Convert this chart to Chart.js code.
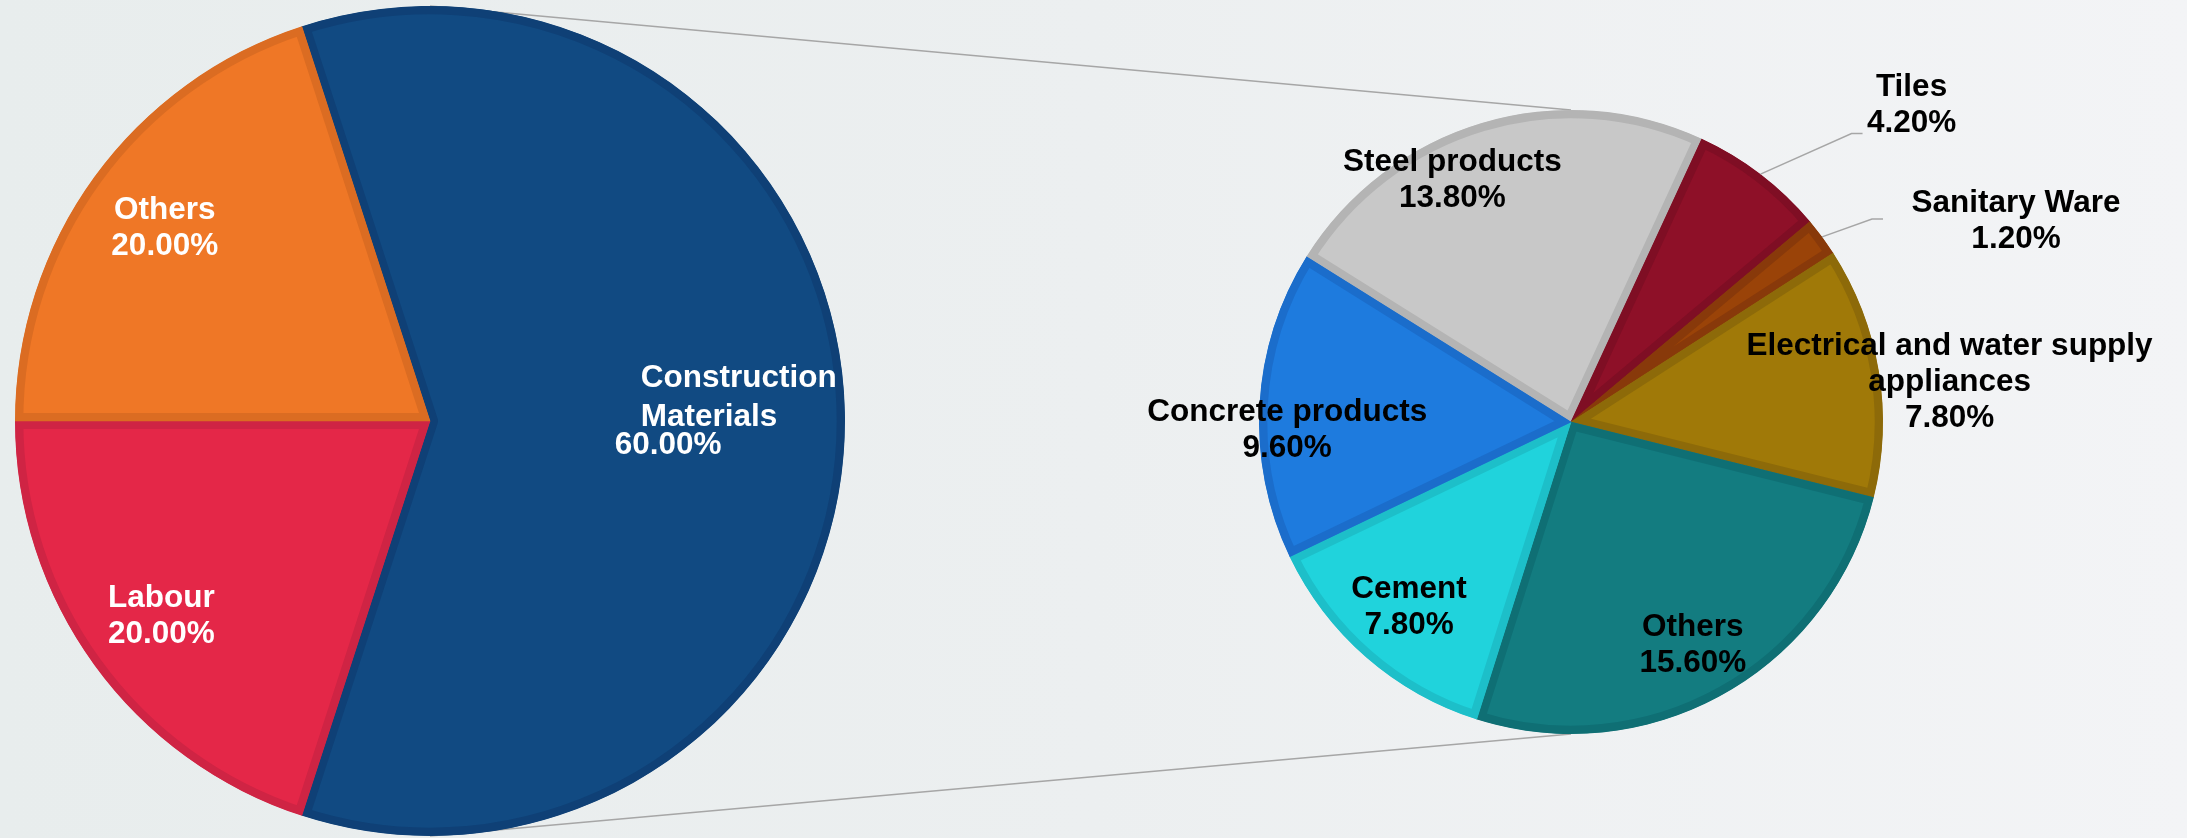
<!DOCTYPE html>
<html>
<head>
<meta charset="utf-8">
<script src="https://cdn.jsdelivr.net/npm/chart.js@4.4.1/dist/chart.umd.min.js"></script>
<style>
  html, body { margin: 0; padding: 0; }
  body {
    width: 2187px; height: 838px; overflow: hidden;
    background: linear-gradient(to right, #e8eded 0%, #eceff0 50%, #f3f4f6 100%);
  }
  .layer { position: absolute; left: 0; top: 0; width: 2187px; height: 838px; }
  #detailWrap { z-index: 1; }
  #mainWrap { z-index: 2; }
</style>
</head>
<body>
<div class="layer" id="detailWrap"><canvas id="detailChart"></canvas></div>
<div class="layer" id="mainWrap"><canvas id="mainChart"></canvas></div>
<script>
// Data
const mainLabels = ['Construction Materials', 'Labour', 'Others'];
const mainValues = [60, 20, 20];

const detailLabels = ['Steel products', 'Tiles', 'Sanitary Ware', 'Electrical and water supply appliances', 'Others', 'Cement', 'Concrete products'];
const detailValues = [13.8, 4.2, 1.2, 7.8, 15.6, 7.8, 9.6];

// Colours
const mainColors = ['#114a82', '#e42748', '#ef7726'];
const mainBorders = ['#0f4076', '#cf2444', '#db6c22'];
const detailColors = ['#c8c8c8', '#8e1028', '#9a4308', '#a07908', '#137c80', '#20d3dc', '#1e7bde'];
const detailBorders = ['#b4b4b4', '#7f0e24', '#88390a', '#8d6a09', '#0f6f74', '#1dbfc9', '#1b6dcb'];

const FONT = 'bold 31.5px "Liberation Sans", Arial, sans-serif';
const LINE_H = 36;

// label placement relative to each slice: radius factor + angle nudge (deg)
const mainLabelPos = [
  { r: 0.65, da: 0, lines: ['Construction', 'Materials'], left: true, offs: [[-59, -43], [-59, -4], [-85, 24]] },
  { r: 0.80, da: 0, lines: ['Labour'] },
  { r: 0.79, da: 0, lines: ['Others'] }
];
const detailLabelPos = [
  { r: 0.864, da: -9.5, lines: ['Steel products'] },
  { r: 1.49, da: 9.7, lines: ['Tiles'], leader: [-49, 28] },
  { r: 1.565, da: 12.1, lines: ['Sanitary Ware'], leader: [-133, -2] },
  { r: 1.22, da: 3.4, lines: ['Electrical and water supply', 'appliances'] },
  { r: 0.816, da: 0.6, lines: ['Others'] },
  { r: 0.788, da: 0.2, lines: ['Cement'] },
  { r: 0.91, da: -4.8, lines: ['Concrete products'] }
];

function pct(v) { return v.toFixed(2) + '%'; }

function labelPlugin(layout, values, color) {
  return {
    id: 'sliceLabels',
    afterDatasetsDraw(chart) {
      const ctx = chart.ctx;
      const arcs = chart.getDatasetMeta(0).data;
      ctx.save();
      ctx.font = FONT;
      ctx.fillStyle = color;
      ctx.textBaseline = 'middle';
      arcs.forEach((arc, i) => {
        const p = layout[i];
        const mid = (arc.startAngle + arc.endAngle) / 2 + p.da * Math.PI / 180;
        const ax = arc.x + Math.cos(mid) * arc.outerRadius * p.r;
        const ay = arc.y + Math.sin(mid) * arc.outerRadius * p.r;
        const lines = p.lines.concat([pct(values[i])]);
        if (p.left) {
          ctx.textAlign = 'left';
          lines.forEach((t, k) => ctx.fillText(t, ax + p.offs[k][0], ay + p.offs[k][1]));
        } else {
          ctx.textAlign = 'center';
          const top = ay - (lines.length - 1) * LINE_H / 2;
          lines.forEach((t, k) => ctx.fillText(t, ax, top + k * LINE_H));
        }
        if (p.leader) {
          const am = (arc.startAngle + arc.endAngle) / 2;
          const sx = arc.x + Math.cos(am) * arc.outerRadius;
          const sy = arc.y + Math.sin(am) * arc.outerRadius;
          const ex = ax + p.leader[0], ey = ay + p.leader[1];
          ctx.beginPath();
          ctx.strokeStyle = '#a6a6a6';
          ctx.lineWidth = 1.5;
          ctx.moveTo(sx, sy);
          ctx.lineTo(ex - 11, ey);
          ctx.lineTo(ex, ey);
          ctx.stroke();
        }
      });
      ctx.restore();
    }
  };
}

const baseOptions = {
  responsive: true,
  maintainAspectRatio: false,
  animation: false,
  events: [],
  plugins: { legend: { display: false }, tooltip: { enabled: false } }
};

// Main pie (left)
const mainChart = new Chart(document.getElementById('mainChart').getContext('2d'), {
  type: 'pie',
  data: {
    labels: mainLabels,
    datasets: [{
      data: mainValues,
      backgroundColor: mainColors,
      borderColor: mainBorders,
      borderWidth: 8,
      borderAlign: 'inner'
    }]
  },
  options: Object.assign({}, baseOptions, {
    rotation: -18,
    radius: 415,
    layout: { padding: { left: 0, right: 1327, top: 4, bottom: 0 } }
  }),
  plugins: [labelPlugin(mainLabelPos, mainValues, '#ffffff')]
});

// connector lines between the two pies
const connectorPlugin = {
  id: 'connectors',
  beforeDatasetsDraw(chart) {
    const a = mainChart.getDatasetMeta(0).data[0];
    const b = chart.getDatasetMeta(0).data[0];
    if (!a || !b) return;
    const ctx = chart.ctx;
    ctx.save();
    ctx.strokeStyle = '#a6a6a6';
    ctx.lineWidth = 1.5;
    ctx.beginPath();
    ctx.moveTo(a.x, a.y - a.outerRadius);
    ctx.lineTo(b.x, b.y - b.outerRadius);
    ctx.moveTo(a.x, a.y + a.outerRadius);
    ctx.lineTo(b.x, b.y + b.outerRadius);
    ctx.stroke();
    ctx.restore();
  }
};

// Breakdown pie (right)
new Chart(document.getElementById('detailChart').getContext('2d'), {
  type: 'pie',
  data: {
    labels: detailLabels,
    datasets: [{
      data: detailValues,
      backgroundColor: detailColors,
      borderColor: detailBorders,
      borderWidth: 8,
      borderAlign: 'inner'
    }]
  },
  options: Object.assign({}, baseOptions, {
    rotation: -58,
    radius: 312,
    layout: { padding: { left: 1251, right: 296, top: 102, bottom: 96 } }
  }),
  plugins: [connectorPlugin, labelPlugin(detailLabelPos, detailValues, '#000000')]
});
</script>
</body>
</html>
